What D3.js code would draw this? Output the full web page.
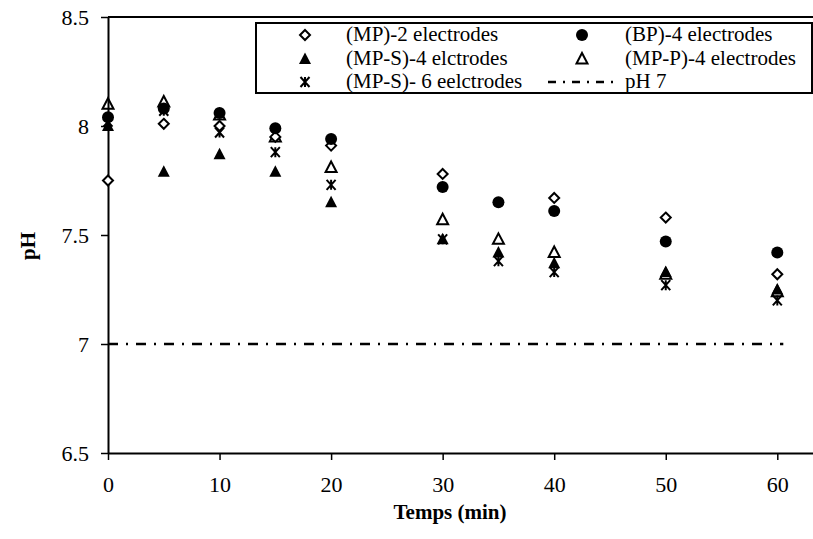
<!DOCTYPE html>
<html>
<head>
<meta charset="utf-8">
<script src="https://cdn.jsdelivr.net/npm/d3@7"></script>
<style>
  body { margin: 0; background: #fff; }
  svg text { font-family: "Liberation Serif", "Times New Roman", serif; }
</style>
</head>
<body>
<div class="chart"></div>
<script>
// time (min)
const times = [0, 5, 10, 15, 20, 30, 35, 40, 50, 60];
const mp2 = [7.75, 8.01, 8.00, 7.95, 7.91, 7.78, null, 7.67, 7.58, 7.32];
const bp4 = [8.04, 8.08, 8.06, 7.99, 7.94, 7.72, 7.65, 7.61, 7.47, 7.42];
const mps4 = [8.00, 7.79, 7.87, 7.79, 7.65, 7.48, 7.42, 7.37, 7.33, 7.25];
const mpp4 = [8.10, 8.11, 8.05, 7.95, 7.81, 7.57, 7.48, 7.42, 7.32, 7.24];
const mps6 = [8.02, 8.07, 7.97, 7.88, 7.73, 7.48, 7.38, 7.33, 7.27, 7.20];
const refPH = 7;
const yTicks = [6.5, 7, 7.5, 8, 8.5];
const xTicks = [0, 10, 20, 30, 40, 50, 60];

const series = [
  {name: '(MP)-2 electrodes', values: mp2, shape: 'diamond'},
  {name: '(BP)-4 electrodes', values: bp4, shape: 'circle'},
  {name: '(MP-S)-4 elctrodes', values: mps4, shape: 'tri'},
  {name: '(MP-P)-4 electrodes', values: mpp4, shape: 'otri'},
  {name: '(MP-S)- 6 eelctrodes', values: mps6, shape: 'star'}
];

const W = 813, H = 539;
const svg = d3.select('.chart').append('svg')
  .attr('width', W).attr('height', H);

const x = d3.scaleLinear().domain([0, 63.2]).range([108, 813]);
const y = d3.scaleLinear().domain([6.5, 8.5]).range([453, 17]);
const serif = 'Liberation Serif, Times New Roman, serif';

// top border
svg.append('line')
  .attr('x1', x(0)).attr('x2', W)
  .attr('y1', y(8.5)).attr('y2', y(8.5))
  .attr('stroke', '#000').attr('stroke-width', 2);

const xAxis = svg.append('g')
  .attr('transform', `translate(0,${y(6.5)})`)
  .call(d3.axisBottom(x).tickValues(xTicks).tickSize(7).tickSizeOuter(0).tickFormat(d3.format('d')));
xAxis.attr('font-family', serif);
xAxis.select('.domain').attr('stroke-width', 2);
xAxis.selectAll('.tick line').attr('stroke-width', 1.5);
xAxis.selectAll('.tick text').attr('font-size', 22).attr('y', 39).attr('dy', 0);

const yAxis = svg.append('g')
  .attr('transform', `translate(${x(0)},0)`)
  .call(d3.axisLeft(y).tickValues(yTicks).tickSize(7).tickSizeOuter(0).tickFormat(d => d));
yAxis.attr('font-family', serif);
yAxis.select('.domain').attr('stroke-width', 2);
yAxis.selectAll('.tick line').attr('stroke-width', 1.5);
yAxis.selectAll('.tick text').attr('font-size', 22).attr('x', -19);

// axis titles
svg.append('text')
  .attr('x', 450).attr('y', 519)
  .attr('text-anchor', 'middle')
  .attr('font-family', serif)
  .attr('font-weight', 'bold').attr('font-size', 21)
  .text('Temps (min)');
svg.append('text')
  .attr('transform', 'translate(35,246) rotate(-90)')
  .attr('text-anchor', 'middle')
  .attr('font-family', serif)
  .attr('font-weight', 'bold').attr('font-size', 21)
  .text('pH');

// pH 7 reference line
svg.append('line')
  .attr('x1', x(0)).attr('x2', x(60) + 6)
  .attr('y1', y(refPH)).attr('y2', y(refPH))
  .attr('stroke', '#000').attr('stroke-width', 2.5)
  .attr('stroke-dasharray', '10,8,2,8');

function drawMarker(g, shape) {
  if (shape === 'circle') {
    g.append('circle').attr('r', 6).attr('fill', '#000');
  } else if (shape === 'diamond') {
    g.append('path').attr('d', 'M0,-5L5,0L0,5L-5,0Z')
      .attr('fill', '#fff').attr('stroke', '#000').attr('stroke-width', 2);
  } else if (shape === 'tri') {
    g.append('path').attr('d', 'M0,-6.5L6,5L-6,5Z').attr('fill', '#000');
  } else if (shape === 'otri') {
    g.append('path').attr('d', 'M0,-6L5.5,4.5L-5.5,4.5Z')
      .attr('fill', 'none').attr('stroke', '#000').attr('stroke-width', 2);
  } else if (shape === 'star') {
    g.append('path').attr('d', 'M-4.5,-5L4.5,5M-4.5,5L4.5,-5M0,-5L0,5')
      .attr('fill', 'none').attr('stroke', '#000').attr('stroke-width', 2);
  }
}

// draw order: open triangles first, then others
const drawOrder = [3, 4, 2, 0, 1];
drawOrder.forEach(si => {
  const s = series[si];
  const pts = times.map((t, i) => ({t, v: s.values[i]})).filter(d => d.v != null);
  svg.append('g').selectAll('g')
    .data(pts)
    .enter()
    .append('g')
    .attr('transform', d => `translate(${x(d.t)},${y(d.v)})`)
    .each(function() { drawMarker(d3.select(this), s.shape); });
});

// legend
const leg = svg.append('g');
leg.append('rect')
  .attr('x', 256).attr('y', 23).attr('width', 556).attr('height', 70)
  .attr('fill', '#fff').attr('stroke', '#000').attr('stroke-width', 2);

const legItems = [
  {label: series[0].name, shape: 'diamond', col: 0, row: 0},
  {label: series[1].name, shape: 'circle', col: 1, row: 0},
  {label: series[2].name, shape: 'tri', col: 0, row: 1},
  {label: series[3].name, shape: 'otri', col: 1, row: 1},
  {label: series[4].name, shape: 'star', col: 0, row: 2},
  {label: 'pH 7', shape: 'line', col: 1, row: 2}
];
const colSym = [305, 582], colTxt = [346, 625], rowY = [35, 59, 82];
legItems.forEach(d => {
  const g = leg.append('g').attr('transform', `translate(${colSym[d.col]},${rowY[d.row]})`);
  if (d.shape === 'line') {
    g.append('line').attr('x1', -34).attr('x2', 31).attr('y1', 0).attr('y2', 0)
      .attr('stroke', '#000').attr('stroke-width', 2.5).attr('stroke-dasharray', '8,7,2,7');
  } else {
    drawMarker(g, d.shape);
  }
  leg.append('text')
    .attr('x', colTxt[d.col]).attr('y', rowY[d.row] + 6)
    .attr('font-family', serif)
    .attr('font-size', 21)
    .text(d.label);
});
</script>
</body>
</html>
